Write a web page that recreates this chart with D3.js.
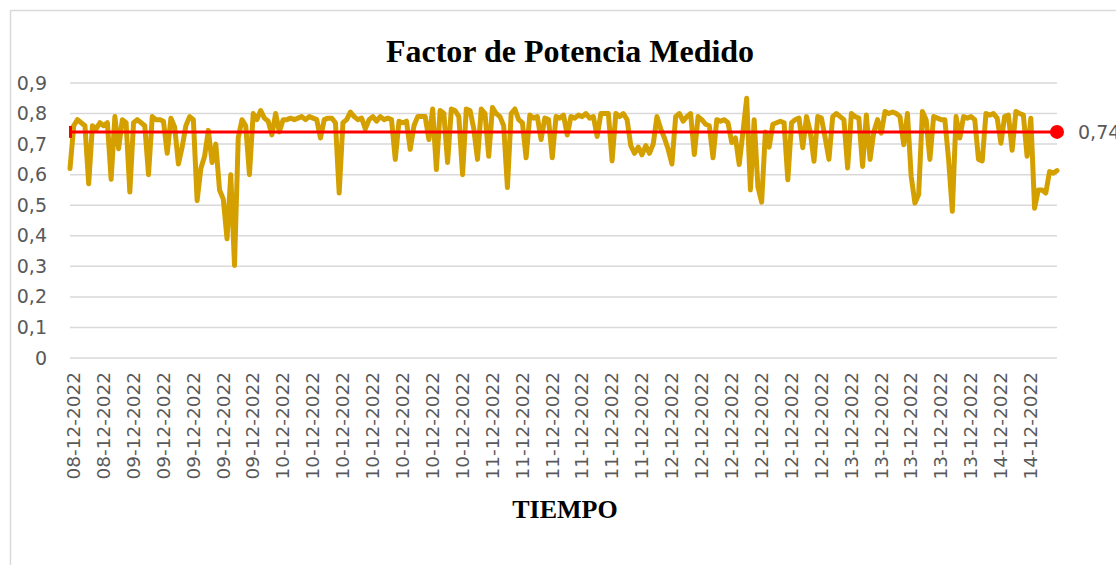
<!DOCTYPE html>
<html>
<head>
<meta charset="utf-8">
<script src="https://cdn.jsdelivr.net/npm/d3@7"></script>
<style>
  body { margin: 0; background: #fff; }
  svg { display: block; }
</style>
</head>
<body>
<div id="chart"></div>
<script>
// tick labels on the category axis, one every 8 readings
const tickLabels = [
  "08-12-2022", "08-12-2022",
  "09-12-2022", "09-12-2022", "09-12-2022", "09-12-2022", "09-12-2022",
  "10-12-2022", "10-12-2022", "10-12-2022", "10-12-2022", "10-12-2022", "10-12-2022", "10-12-2022",
  "11-12-2022", "11-12-2022", "11-12-2022", "11-12-2022", "11-12-2022", "11-12-2022",
  "12-12-2022", "12-12-2022", "12-12-2022", "12-12-2022", "12-12-2022", "12-12-2022",
  "13-12-2022", "13-12-2022", "13-12-2022", "13-12-2022", "13-12-2022",
  "14-12-2022", "14-12-2022"
];
const tickEvery = 8;

const yTicks = [0, 0.1, 0.2, 0.3, 0.4, 0.5, 0.6, 0.7, 0.8, 0.9];

// factor de potencia medido
const fpMedido = [
  0.62, 0.76, 0.78, 0.77, 0.76, 0.57, 0.76, 0.75, 0.77, 0.76,
  0.77, 0.585, 0.79, 0.685, 0.78, 0.77, 0.543, 0.77, 0.78, 0.77,
  0.76, 0.60, 0.79, 0.78, 0.78, 0.775, 0.67, 0.785, 0.755, 0.635,
  0.69, 0.76, 0.79, 0.78, 0.515, 0.62, 0.66, 0.745, 0.64, 0.70,
  0.55, 0.52, 0.39, 0.60, 0.303, 0.72, 0.78, 0.76, 0.60, 0.80,
  0.78, 0.81, 0.785, 0.775, 0.73, 0.80, 0.74, 0.78, 0.78, 0.785,
  0.78, 0.785, 0.79, 0.78, 0.79, 0.785, 0.78, 0.72, 0.78, 0.785,
  0.785, 0.77, 0.54, 0.77, 0.78, 0.805, 0.79, 0.78, 0.785, 0.75,
  0.78, 0.79, 0.775, 0.79, 0.78, 0.785, 0.78, 0.65, 0.775, 0.77,
  0.775, 0.683, 0.76, 0.79, 0.79, 0.79, 0.715, 0.815, 0.617, 0.81,
  0.80, 0.64, 0.815, 0.81, 0.79, 0.60, 0.815, 0.81, 0.75, 0.65,
  0.815, 0.80, 0.66, 0.82, 0.80, 0.79, 0.76, 0.558, 0.80, 0.815,
  0.78, 0.77, 0.655, 0.795, 0.785, 0.79, 0.715, 0.785, 0.78, 0.655,
  0.79, 0.785, 0.795, 0.73, 0.79, 0.785, 0.795, 0.79, 0.80, 0.785,
  0.79, 0.725, 0.80, 0.80, 0.80, 0.645, 0.80, 0.79, 0.80, 0.78,
  0.695, 0.67, 0.69, 0.665, 0.695, 0.67, 0.70, 0.79, 0.75, 0.72,
  0.683, 0.635, 0.79, 0.80, 0.775, 0.79, 0.80, 0.666, 0.79, 0.78,
  0.765, 0.76, 0.655, 0.78, 0.775, 0.78, 0.77, 0.705, 0.72, 0.633,
  0.74, 0.85, 0.55, 0.78, 0.56, 0.51, 0.74, 0.69, 0.765, 0.77,
  0.775, 0.77, 0.583, 0.77, 0.78, 0.785, 0.688, 0.79, 0.74, 0.644,
  0.79, 0.785, 0.72, 0.65, 0.79, 0.80, 0.79, 0.78, 0.622, 0.80,
  0.79, 0.785, 0.627, 0.795, 0.65, 0.74, 0.78, 0.736, 0.807, 0.80,
  0.805, 0.80, 0.79, 0.698, 0.80, 0.594, 0.507, 0.535, 0.807, 0.78,
  0.65, 0.79, 0.785, 0.78, 0.78, 0.65, 0.48, 0.79, 0.72, 0.79,
  0.785, 0.79, 0.78, 0.65, 0.645, 0.80, 0.795, 0.80, 0.785, 0.703,
  0.79, 0.795, 0.68, 0.807, 0.80, 0.795, 0.66, 0.785, 0.49, 0.55,
  0.55, 0.54, 0.61, 0.605, 0.613
];

const fpReferencia = 0.74;

const width = 1116, height = 565;
const margin = { top: 83, right: 59, bottom: 207, left: 70 };
const innerW = width - margin.left - margin.right;
const innerH = height - margin.top - margin.bottom;

const svg = d3.select("#chart").append("svg")
  .attr("width", width)
  .attr("height", height);

// chart area border (only top/left visible in the crop)
svg.append("path")
  .attr("d", "M10.5," + height + "V10.5H" + width)
  .attr("fill", "none")
  .attr("stroke", "#d9d9d9")
  .attr("stroke-width", 1.5);

const x = d3.scaleLinear()
  .domain([0, fpMedido.length - 1])
  .range([margin.left, margin.left + innerW]);

const y = d3.scaleLinear()
  .domain([0, 0.9])
  .range([margin.top + innerH, margin.top]);

const fmt = d => d3.format(".1f")(d).replace(".", ",").replace(/^0,0$/, "0");

// gridlines
svg.append("g")
  .selectAll("line")
  .data(yTicks)
  .join("line")
  .attr("x1", x.range()[0])
  .attr("x2", x.range()[1])
  .attr("y1", d => y(d))
  .attr("y2", d => y(d))
  .attr("stroke", "#d9d9d9")
  .attr("stroke-width", 1.5);

// y axis
const yAxis = d3.axisLeft(y)
  .tickValues(yTicks)
  .tickFormat(fmt)
  .tickSize(0)
  .tickPadding(23);

svg.append("g")
  .attr("transform", "translate(" + margin.left + ",0)")
  .call(yAxis)
  .call(g => g.select(".domain").remove())
  .selectAll("text")
  .attr("fill", "#595959")
  .style("font-family", "'DejaVu Sans', sans-serif")
  .style("font-size", "19px");

// x axis
const tickIdx = tickLabels.map((d, i) => i * tickEvery);
const xAxis = d3.axisBottom(x)
  .tickValues(tickIdx)
  .tickFormat((d, i) => tickLabels[i])
  .tickSize(0);

svg.append("g")
  .attr("transform", "translate(0," + (margin.top + innerH) + ")")
  .call(xAxis)
  .call(g => g.select(".domain").remove())
  .selectAll("text")
  .attr("fill", "#595959")
  .style("font-family", "'DejaVu Sans', sans-serif")
  .style("font-size", "18.5px")
  .attr("text-anchor", "end")
  .attr("transform", "rotate(-90)")
  .attr("x", -14)
  .attr("y", 3)
  .attr("dy", "0.35em");

// measured series
const lineFn = d3.line()
  .x((d, i) => x(i))
  .y(d => y(d));

svg.append("path")
  .datum(fpMedido)
  .attr("d", lineFn)
  .attr("fill", "none")
  .attr("stroke", "#d4a000")
  .attr("stroke-width", 5)
  .attr("stroke-linejoin", "round")
  .attr("stroke-linecap", "round");

// reference line 0,74
const refData = fpMedido.map(() => fpReferencia);
svg.append("path")
  .datum(refData)
  .attr("d", lineFn)
  .attr("fill", "none")
  .attr("stroke", "#ff0000")
  .attr("stroke-width", 3);

svg.append("rect")
  .attr("x", x(0) - 1)
  .attr("y", y(fpReferencia) - 6)
  .attr("width", 3)
  .attr("height", 12)
  .attr("fill", "#ff0000");

svg.append("circle")
  .attr("cx", x(refData.length - 1))
  .attr("cy", y(fpReferencia))
  .attr("r", 7)
  .attr("fill", "#ff0000");

// data label, cut by the right edge as in the original
svg.append("text")
  .attr("x", x(refData.length - 1) + 21)
  .attr("y", y(fpReferencia))
  .attr("dy", "0.35em")
  .attr("fill", "#595959")
  .style("font-family", "'DejaVu Sans', sans-serif")
  .style("font-size", "19px")
  .text(d3.format(".2f")(fpReferencia).replace(".", ","));

// titles
svg.append("text")
  .attr("x", 570)
  .attr("y", 62)
  .attr("text-anchor", "middle")
  .style("font-family", "'Liberation Serif', 'Times New Roman', serif")
  .style("font-weight", "bold")
  .style("font-size", "32px")
  .text("Factor de Potencia Medido");

svg.append("text")
  .attr("x", 565)
  .attr("y", 518)
  .attr("text-anchor", "middle")
  .style("font-family", "'Liberation Serif', 'Times New Roman', serif")
  .style("font-weight", "bold")
  .style("font-size", "26px")
  .text("TIEMPO");
</script>
</body>
</html>
